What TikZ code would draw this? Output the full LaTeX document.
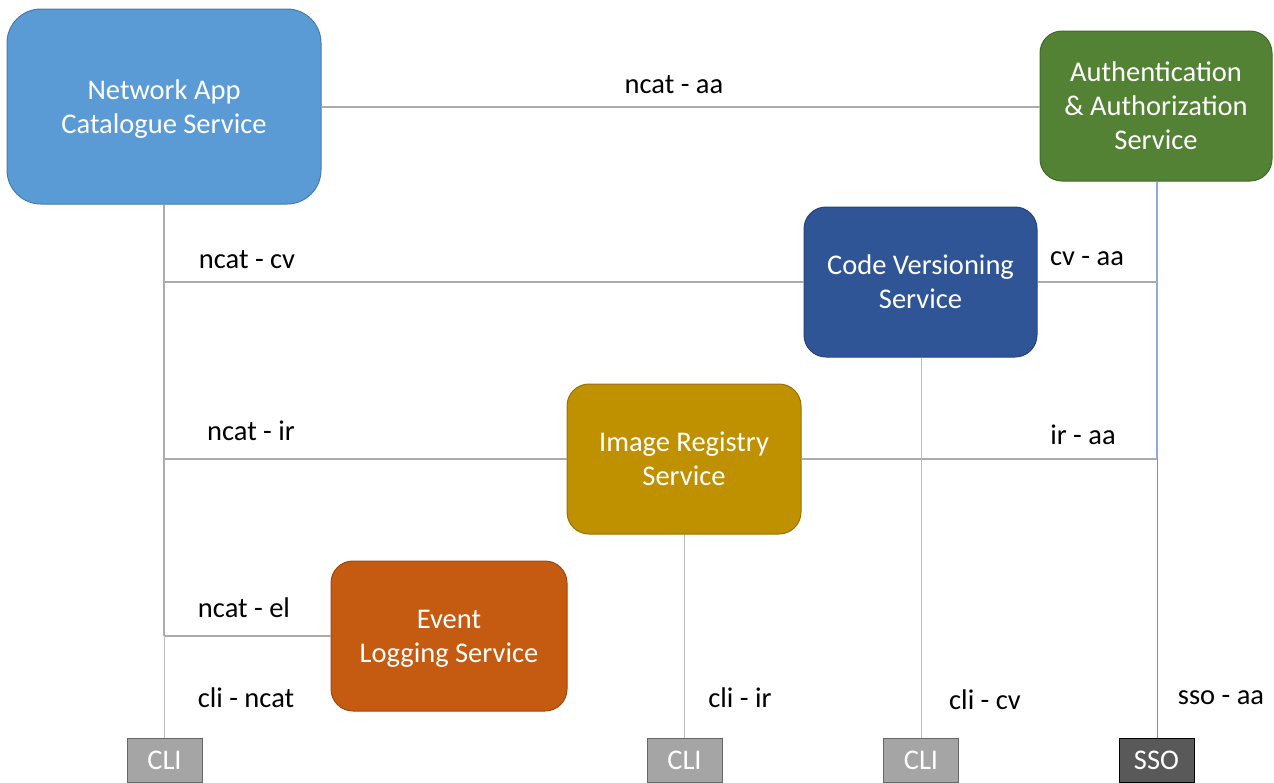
\documentclass[tikz,border=0pt]{standalone}
\usepackage{fontspec}
\setmainfont{Carlito}
\begin{document}
\begin{tikzpicture}[x=1pt,y=-1pt,
  svc/.style={rounded corners=22pt, draw=#1!80!black, line width=1pt, fill=#1,
    text=white, align=center, font=\fontsize{28.5}{34}\selectfont, inner sep=0pt},
  tag/.style={draw=gray!80!black, line width=1pt, fill=cligray, text=white,
    font=\fontsize{28.5}{30}\selectfont, inner sep=0pt},
  lbl/.style={text=black, font=\fontsize{28.5}{30}\selectfont, inner sep=0pt},
  link/.style={draw=linkgray, line width=2pt},
  thin/.style={draw=linkgray!80, line width=1pt},
  blink/.style={draw=linkblue, line width=2pt},
  bthin/.style={draw=linkblue!80!blue, line width=1pt}
]
\definecolor{ncatblue}{HTML}{5B9BD5}
\definecolor{aagreen}{HTML}{548235}
\definecolor{cvblue}{HTML}{2F5597}
\definecolor{irgold}{HTML}{BF9000}
\definecolor{elorange}{HTML}{C55A11}
\definecolor{cligray}{HTML}{A5A5A5}
\definecolor{ssogray}{HTML}{595959}
\definecolor{linkgray}{HTML}{ABABAB}
\definecolor{linkblue}{HTML}{8FAADC}

\useasboundingbox (0,0) rectangle (1274,782);

% service boxes (descenders of the last line are smashed so every box centres alike)
\node[svc=ncatblue, minimum width=314pt, minimum height=195pt, rounded corners=34pt] (ncat) at (164,106.5) {Network App\\\smash{Catalogue Service}};
\node[svc=aagreen, minimum width=232pt, minimum height=150pt] (aa) at (1156,106) {Authentication\\\& Authorization\\Service};
\node[svc=cvblue, minimum width=233pt, minimum height=150pt] (cv) at (920.5,282) {Code Versioning\\Service};
\node[svc=irgold, minimum width=234pt, minimum height=150pt] (ir) at (684,459) {Image Registry\\Service};
\node[svc=elorange, minimum width=236pt, minimum height=150pt] (el) at (449,636) {Event\\\smash{Logging Service}};

% client boxes along the bottom
\node[tag, minimum width=75pt, minimum height=44pt, anchor=north] (cli1) at (164.5,738) {CLI};
\node[tag, minimum width=75pt, minimum height=44pt, anchor=north] (cli2) at (684.5,738) {CLI};
\node[tag, minimum width=75pt, minimum height=44pt, anchor=north] (cli3) at (921,738) {CLI};
\node[tag, draw=black, fill=ssogray, minimum width=75pt, minimum height=44pt, anchor=north] (sso) at (1156.5,738) {SSO};

% junction points on the trunk lines
\coordinate (tcv) at (164,282);
\coordinate (tir) at (164,459);
\coordinate (tel) at (164,636);
\coordinate (acv) at (1157,282);
\coordinate (air) at (1157,459);

% catalogue connections
\draw[link] (ncat.east |- 0,107) -- (aa.west |- 0,107);
\draw[link] (ncat.south -| tcv) -- (tel);
\draw[link] (tcv) -- (cv.west |- tcv);
\draw[link] (tir) -- (ir.west |- tir);
\draw[link] (tel) -- (el.west |- tel);
\draw[thin] (tel) -- (tel |- cli1.north);

% authentication connections
\draw[blink] (aa.south -| acv) -- (air);
\draw[link] (cv.east |- acv) -- (acv);
\draw[link] (ir.east |- air) -- (air);
\draw[bthin] (air) -- (air |- sso.north);

% client connections
\draw[thin] (cv.south -| cli3) -- (cli3.north);
\draw[thin] (ir.south -| cli2) -- (cli2.north);

% connection labels
\node[lbl] (l1) at (674,85) {ncat - aa};
\node[lbl] (l2) at (247,260) {ncat - cv};
\node[lbl] (l3) at (1087,259) {cv - aa};
\node[lbl] (l4) at (251,431) {ncat - ir};
\node[lbl] (l5) at (1083,435) {ir - aa};
\node[lbl] (l6) at (244,608) {ncat - el};
\node[lbl] (l7) at (246,698) {cli - ncat};
\node[lbl] (l8) at (740,698) {cli - ir};
\node[lbl] (l9) at (985,700) {cli - cv};
\node[lbl] (l10) at (1221,698) {sso - aa};
\end{tikzpicture}
\end{document}
